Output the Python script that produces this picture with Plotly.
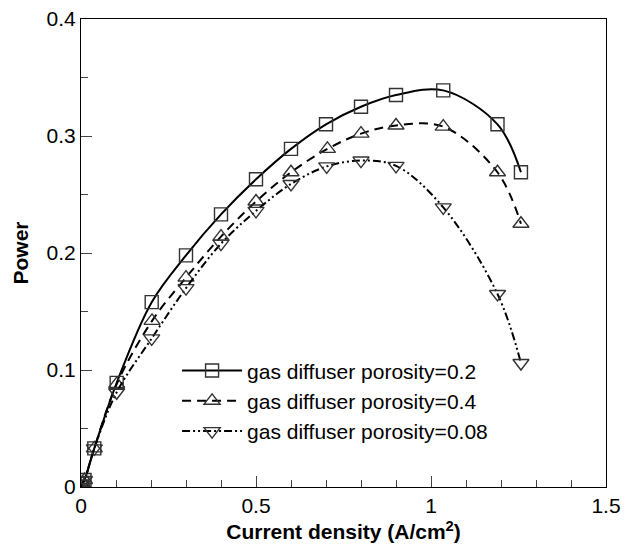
import plotly.graph_objects as go

# Data
x_02 = [0.0, 0.004, 0.01, 0.038, 0.102, 0.202, 0.30, 0.40, 0.50, 0.60, 0.70, 0.80, 0.90, 1.035, 1.19, 1.257]
y_02 = [0.0, 0.003, 0.006, 0.033, 0.089, 0.158, 0.198, 0.233, 0.263, 0.289, 0.310, 0.325, 0.335, 0.339, 0.310, 0.269]

x_04 = [0.0, 0.004, 0.01, 0.038, 0.102, 0.203, 0.30, 0.40, 0.50, 0.60, 0.704, 0.80, 0.90, 1.035, 1.19, 1.257]
y_04 = [0.0, 0.003, 0.006, 0.033, 0.088, 0.142, 0.179, 0.214, 0.244, 0.269, 0.289, 0.302, 0.309, 0.308, 0.269, 0.225]

x_008 = [0.0, 0.004, 0.01, 0.038, 0.102, 0.202, 0.30, 0.40, 0.50, 0.60, 0.702, 0.80, 0.90, 1.035, 1.19, 1.257]
y_008 = [0.0, 0.003, 0.006, 0.033, 0.081, 0.127, 0.170, 0.208, 0.236, 0.259, 0.274, 0.279, 0.2745, 0.239, 0.165, 0.106]

names = ["gas diffuser porosity=0.2", "gas diffuser porosity=0.4", "gas diffuser porosity=0.08"]

FONT = "Liberation Sans, Arial, Helvetica, sans-serif"

fig = go.Figure()

series = [
    (x_02, y_02, names[0], "solid", "square-open", 13),
    (x_04, y_04, names[1], "9px,6px", "triangle-up-open", 14),
    (x_008, y_008, names[2], "8px,3px,2px,3px,2px,3px", "triangle-down-open", 14),
]
for xs, ys, nm, dash, sym, sz in series:
    fig.add_trace(go.Scatter(
        x=xs, y=ys, name=nm, mode="lines+markers",
        line=dict(color="black", width=2, dash=dash, shape="spline", smoothing=1.0),
        marker=dict(symbol=sym, size=sz, color="#333333", line=dict(color="#333333", width=1.4)),
    ))

fig.update_layout(
    width=636, height=544,
    margin=dict(l=81, r=30, t=19, b=57),
    paper_bgcolor="white", plot_bgcolor="white",
    font=dict(family=FONT, size=21, color="black"),
    showlegend=True,
    legend=dict(
        x=0.183, y=0.292, xanchor="left", yanchor="top",
        bgcolor="rgba(0,0,0,0)", borderwidth=0,
        font=dict(family=FONT, size=21, color="black"),
        tracegroupgap=0, itemwidth=60,
    ),
)

fig.update_xaxes(
    range=[0, 1.5], dtick=0.5, tick0=0, automargin=False,
    showline=True, linecolor="black", linewidth=1, mirror=True,
    ticks="inside", ticklen=11, tickcolor="#444444", tickwidth=1,
    minor=dict(ticks="inside", ticklen=7, dtick=0.1, tickcolor="#444444", tickwidth=1),
    showgrid=False, zeroline=False,
    tickfont=dict(family=FONT, size=21),
    title=dict(text="<b>Current density (A/cm<sup>2</sup>)</b>", font=dict(family=FONT, size=21), standoff=8),
)
fig.update_yaxes(
    range=[0, 0.4], dtick=0.1, tick0=0, automargin=False,
    showline=True, linecolor="black", linewidth=1, mirror=True,
    ticks="inside", ticklen=11, tickcolor="#444444", tickwidth=1,
    minor=dict(ticks="inside", ticklen=7, dtick=0.05, tickcolor="#444444", tickwidth=1),
    showgrid=False, zeroline=False,
    tickfont=dict(family=FONT, size=21),
    title=dict(text="<b>Power</b>", font=dict(family=FONT, size=21), standoff=12),
)

fig.write_html("out.html")
